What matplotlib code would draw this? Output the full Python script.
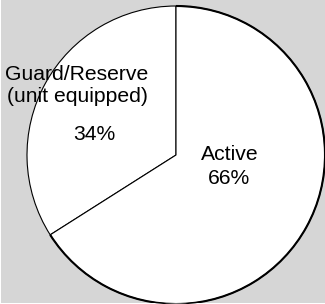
import matplotlib
matplotlib.use('Agg')
import matplotlib.pyplot as plt
from matplotlib.patches import Arc

# data
labels = ['Guard/Reserve\n(unit equipped)', 'Active']
shares = [34, 66]
pct_labels = ['34%', '66%']

W, H = 325, 304
fig = plt.figure(figsize=(W / 100, H / 100), dpi=100, facecolor='white')
# gray panel, leaves a 1px white strip at left and bottom
ax = fig.add_axes([1 / W, 1 / H, 1 - 1 / W, 1 - 1 / H])
ax.set_facecolor('#d6d6d6')

cx, cy, r = 176, H - 155, 149
wedges, _ = ax.pie(shares, startangle=90, counterclock=True,
                   center=(cx, cy), radius=r, frame=True,
                   colors=['white', 'white'],
                   wedgeprops=dict(edgecolor='black', linewidth=0.8))

# heavier rim on the Active slice
a0 = 90 + 360 * shares[0] / 100
ax.add_patch(Arc((cx, cy), 2 * r, 2 * r, theta1=a0, theta2=450,
                 color='black', linewidth=1.5))

ax.set_xlim(1, W)
ax.set_ylim(1, H)
ax.set_aspect('auto')
ax.set_xticks([])
ax.set_yticks([])
for s in ax.spines.values():
    s.set_visible(False)

font = dict(family=['Liberation Sans', 'DejaVu Sans'], fontsize=15.2,
            color='black', ha='center', va='center')
ax.text(77, H - 86, labels[0], linespacing=1.2, **font)
ax.text(94, H - 135, pct_labels[0], **font)
ax.text(230, H - 154, labels[1], **font)
ax.text(229, H - 179, pct_labels[1], **font)

fig.savefig('out.png', dpi=100, facecolor=fig.get_facecolor())
